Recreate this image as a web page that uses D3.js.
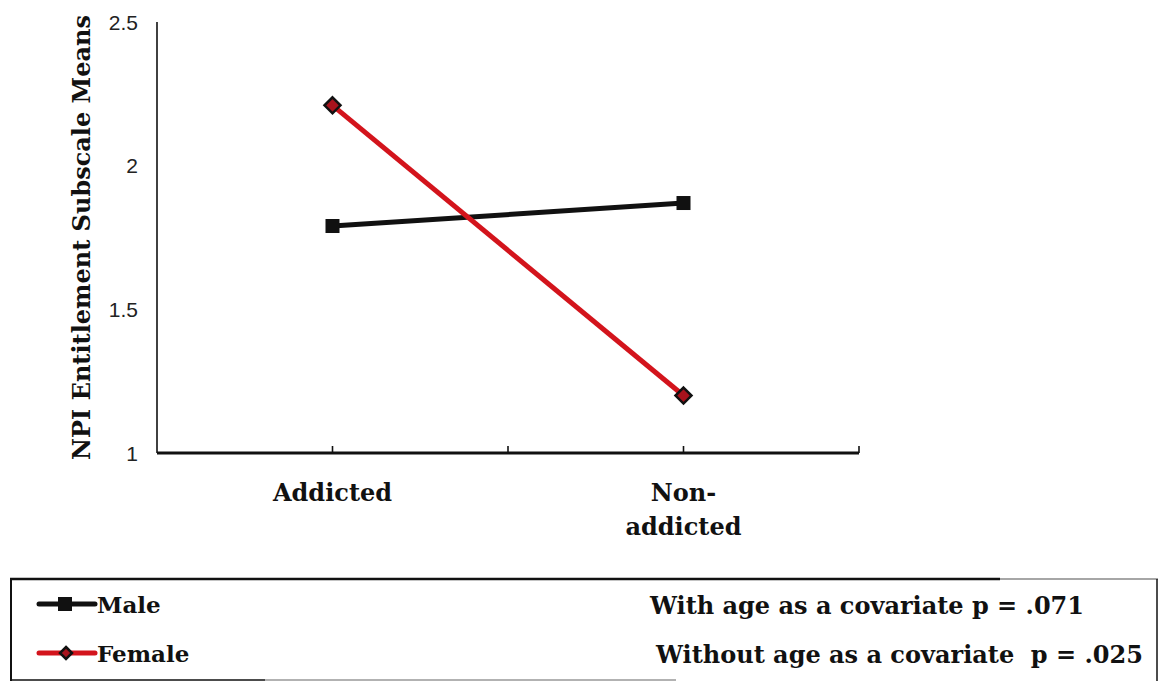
<!DOCTYPE html>
<html>
<head>
<meta charset="utf-8">
<script src="https://cdn.jsdelivr.net/npm/d3@7/dist/d3.min.js"></script>
<style>
  html, body { margin: 0; padding: 0; background: #fff; }
  svg { display: block; }
</style>
</head>
<body>
<svg id="chart" width="1158" height="681"></svg>
<script>
// Group means on the NPI entitlement subscale
const categories = ["Addicted", "Non-addicted"];
const categoryLines = [["Addicted"], ["Non-", "addicted"]];
const maleMeans = [1.79, 1.87];
const femaleMeans = [2.21, 1.20];
const yTicks = [1, 1.5, 2, 2.5];
const seriesNames = ["Male", "Female"];
const notes = ["With age as a covariate p = .071", "Without age as a covariate  p = .025"];

const serif = "'DejaVu Serif', serif";
const sans = "'Liberation Sans', Arial, sans-serif";
const RED = "#d3141c";
const BLACK = "#111";

const svg = d3.select("#chart");

const x = d3.scaleBand().domain(categories).range([157, 859]).padding(0);
const y = d3.scaleLinear().domain([1, 2.5]).range([453, 22]);
const cx = c => x(c) + x.bandwidth() / 2;

// y axis: line and labels only
svg.append("line")
  .attr("x1", x.range()[0]).attr("x2", x.range()[0])
  .attr("y1", y(2.5)).attr("y2", y(1))
  .attr("stroke", BLACK).attr("stroke-width", 1.6);

svg.append("g").selectAll("text").data(yTicks).join("text")
  .attr("x", 138).attr("y", d => y(d))
  .attr("dy", "0.36em")
  .attr("text-anchor", "end")
  .attr("font-family", sans).attr("font-size", 21)
  .attr("fill", "#222")
  .text(d => d);

// x axis with upward ticks at category centres and band boundaries
svg.append("line")
  .attr("x1", x.range()[0]).attr("x2", x.range()[1])
  .attr("y1", y(1)).attr("y2", y(1))
  .attr("stroke", BLACK).attr("stroke-width", 3);

const tickXs = [];
categories.forEach(c => { tickXs.push(cx(c)); tickXs.push(x(c) + x.bandwidth()); });
svg.append("g").selectAll("line").data(tickXs).join("line")
  .attr("x1", d => d).attr("x2", d => d)
  .attr("y1", y(1)).attr("y2", y(1) - 7)
  .attr("stroke", BLACK).attr("stroke-width", 1.6);

// category labels
const xl = svg.append("g");
categories.forEach((c, i) => {
  categoryLines[i].forEach((ln, j) => {
    xl.append("text")
      .attr("x", cx(c)).attr("y", 501 + j * 34)
      .attr("text-anchor", "middle")
      .attr("font-family", serif).attr("font-weight", "bold")
      .attr("font-size", 24).attr("fill", BLACK)
      .text(ln);
  });
});

// y axis title
svg.append("text")
  .attr("transform", `translate(90, ${(y(2.5) + y(1)) / 2}) rotate(-90)`)
  .attr("text-anchor", "middle")
  .attr("font-family", serif).attr("font-weight", "bold")
  .attr("font-size", 24).attr("fill", BLACK)
  .text("NPI Entitlement Subscale Means");

// series lines
const line = d3.line().x(d => cx(d.c)).y(d => y(d.v));
const maleData = categories.map((c, i) => ({ c, v: maleMeans[i] }));
const femaleData = categories.map((c, i) => ({ c, v: femaleMeans[i] }));

svg.append("path").datum(maleData)
  .attr("d", line).attr("fill", "none")
  .attr("stroke", BLACK).attr("stroke-width", 5);
svg.append("g").selectAll("rect").data(maleData).join("rect")
  .attr("x", d => cx(d.c) - 7).attr("y", d => y(d.v) - 7)
  .attr("width", 14).attr("height", 14)
  .attr("fill", BLACK);

svg.append("path").datum(femaleData)
  .attr("d", line).attr("fill", "none")
  .attr("stroke", RED).attr("stroke-width", 5);
const diamond = (px, py, r) => `M${px},${py - r}L${px + r},${py}L${px},${py + r}L${px - r},${py}Z`;
svg.append("g").selectAll("path").data(femaleData).join("path")
  .attr("d", d => diamond(cx(d.c), y(d.v), 8))
  .attr("fill", "#a8121c").attr("stroke", BLACK).attr("stroke-width", 2.5);

// legend frame
const lg = svg.append("g");
lg.append("line").attr("x1", 10).attr("x2", 1000).attr("y1", 579).attr("y2", 579)
  .attr("stroke", BLACK).attr("stroke-width", 2.5);
lg.append("line").attr("x1", 1000).attr("x2", 1158).attr("y1", 579).attr("y2", 579)
  .attr("stroke", "#888").attr("stroke-width", 1.5);
lg.append("line").attr("x1", 11).attr("x2", 11).attr("y1", 579).attr("y2", 681)
  .attr("stroke", BLACK).attr("stroke-width", 2);
lg.append("line").attr("x1", 1157).attr("x2", 1157).attr("y1", 579).attr("y2", 681)
  .attr("stroke", BLACK).attr("stroke-width", 1.5);
lg.append("line").attr("x1", 10).attr("x2", 265).attr("y1", 680).attr("y2", 680)
  .attr("stroke", BLACK).attr("stroke-width", 1.5);
lg.append("line").attr("x1", 265).attr("x2", 676).attr("y1", 680).attr("y2", 680)
  .attr("stroke", "#999").attr("stroke-width", 1.5);

// legend entries
const legendY = [604, 653];
seriesNames.forEach((name, i) => {
  const ly = legendY[i];
  const col = i === 0 ? BLACK : RED;
  lg.append("line").attr("x1", 39).attr("x2", 95).attr("y1", ly).attr("y2", ly)
    .attr("stroke", col).attr("stroke-width", 5).attr("stroke-linecap", "round");
  if (i === 0) {
    lg.append("rect").attr("x", 58).attr("y", ly - 7).attr("width", 14).attr("height", 14)
      .attr("fill", BLACK);
  } else {
    lg.append("path").attr("d", diamond(66, ly, 6))
      .attr("fill", "#a8121c").attr("stroke", BLACK).attr("stroke-width", 2.5);
  }
  lg.append("text")
    .attr("x", 97).attr("y", ly + 9)
    .attr("font-family", serif).attr("font-weight", "bold")
    .attr("font-size", 23).attr("fill", BLACK)
    .text(name);
});

// significance notes
const noteX = [650, 656];
notes.forEach((t, i) => {
  lg.append("text")
    .attr("x", noteX[i]).attr("y", legendY[i] + 10)
    .attr("font-family", serif).attr("font-weight", "bold")
    .attr("font-size", 24).attr("fill", BLACK)
    .attr("xml:space", "preserve")
    .style("white-space", "pre")
    .text(t);
});
</script>
</body>
</html>
